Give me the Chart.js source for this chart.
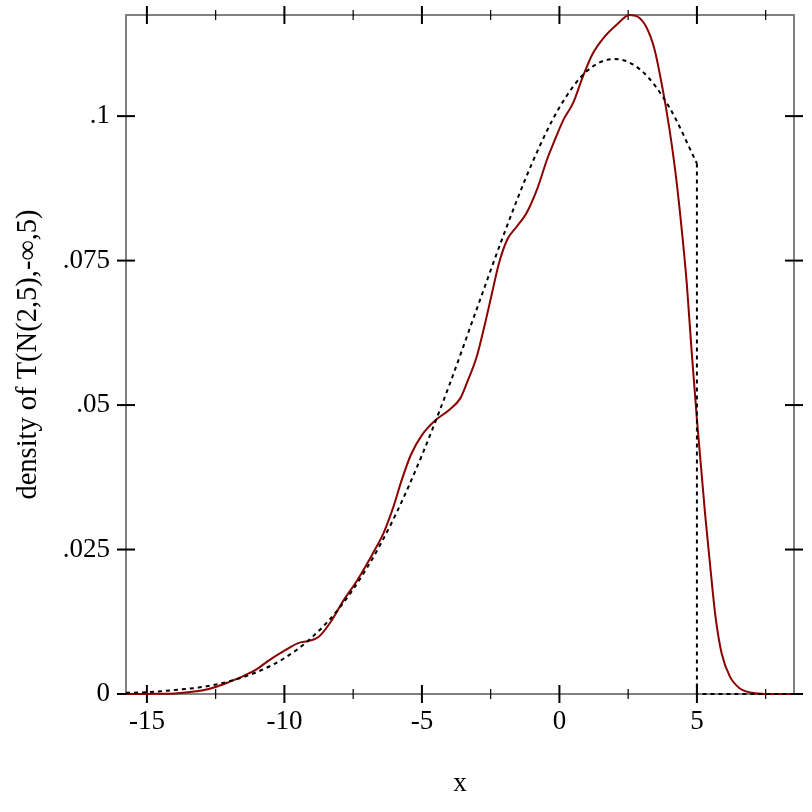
<!DOCTYPE html>
<html lang="en">
<head>
    <meta charset="UTF-8">
    <title>density of T(N(2,5),-∞,5)</title>
    <script src="https://cdn.jsdelivr.net/npm/chart.js@4.4.3/dist/chart.umd.min.js"></script>
    <style>
        html, body { margin: 0; padding: 0; background: #ffffff; }
        #densityChart { display: block; }
    </style>
</head>
<body>
    <canvas id="densityChart" width="812" height="812"></canvas>
    <script>
        // sampled density (solid dark red)
        const sampleX = [-15.76, -15, -14, -13.5, -13, -12.5, -12, -11.5, -11, -10.6, -10, -9.5, -9.1, -8.75, -8.3,
            -7.85, -7.35, -6.8, -6.4, -6.05, -5.75, -5.4, -5.0, -4.5, -4.0, -3.6, -3.35, -3.0, -2.7, -2.45,
            -2.2, -1.9, -1.55, -1.2, -0.8, -0.45, -0.2, 0.15, 0.5, 0.85, 1.2, 1.6, 2.1, 2.55, 2.85,
            3.15, 3.45, 3.75, 4.0, 4.2, 4.4, 4.63, 4.8, 5.0, 5.3, 5.5, 5.68, 5.9, 6.2, 6.55,
            7.0, 7.5, 8.53];
        const sampleY = [0, 0.00002, 0.0001, 0.0003, 0.0006, 0.0012, 0.0021, 0.0031, 0.0043, 0.0057, 0.0075, 0.0088, 0.0092, 0.0099, 0.0126,
            0.0162, 0.0197, 0.0242, 0.0278, 0.0322, 0.0368, 0.0414, 0.0448, 0.0474, 0.0492, 0.0512, 0.054, 0.0585, 0.0642, 0.0694,
            0.0745, 0.0786, 0.0809, 0.0832, 0.0875, 0.0925, 0.0955, 0.0994, 0.1023, 0.1068, 0.1107, 0.1135, 0.1159, 0.1175, 0.1172,
            0.1155, 0.1117, 0.1048, 0.0978, 0.091, 0.0826, 0.0711, 0.0598, 0.0475, 0.031, 0.0213, 0.0132, 0.007, 0.003, 0.001,
            0.0002, 0, 0];

        // truncated normal density (dotted black)
        const truncX = [-15.76, -15, -14, -13, -12, -11, -10, -9, -8, -7, -6, -5, -4, -3, -2, -1, 0, 1, 2, 3, 4, 5];
        const truncY = [0.0002, 0.0003, 0.0007, 0.0012, 0.0022, 0.0038, 0.0062, 0.0098, 0.0149, 0.0218, 0.0306, 0.0413,
            0.0535, 0.0667, 0.0798, 0.0918, 0.1015, 0.1078, 0.1099, 0.1078, 0.1015, 0.0918];
        const dropX = [5, 5, 8.53];
        const dropY = [0.0918, 0, 0];

        const xMajorTicks = [-15, -10, -5, 0, 5];
        const xMinorTicks = [-12.5, -7.5, -2.5, 2.5, 7.5];
        const yTicks = [0, 0.025, 0.05, 0.075, 0.1];
        const yTickLabels = ['0', '.025', '.05', '.075', '.1'];

        const toPoints = (xs, ys) => xs.map((x, i) => ({ x: x, y: ys[i] }));
        const serif = "'Liberation Serif', 'DejaVu Serif', serif";
        const labelFont = { family: serif, size: 27 };

        // frame and tick marks on all four sides, crossing the frame line
        const framePlugin = {
            id: 'frame',
            beforeDatasetsDraw(chart) {
                const ctx = chart.ctx;
                const a = chart.chartArea;
                const xs = chart.scales.x;
                const ys = chart.scales.y;
                ctx.save();
                ctx.strokeStyle = '#808080';
                ctx.lineWidth = 2;
                ctx.strokeRect(a.left, a.top, a.right - a.left, a.bottom - a.top);
                ctx.strokeStyle = '#000000';
                const mark = (x1, y1, x2, y2, w) => {
                    ctx.lineWidth = w;
                    ctx.beginPath();
                    ctx.moveTo(x1, y1);
                    ctx.lineTo(x2, y2);
                    ctx.stroke();
                };
                xMajorTicks.forEach(v => {
                    const px = xs.getPixelForValue(v);
                    mark(px, a.bottom - 9, px, a.bottom + 9, 2);
                    mark(px, a.top - 9, px, a.top + 9, 2);
                });
                xMinorTicks.forEach(v => {
                    const px = xs.getPixelForValue(v);
                    mark(px, a.bottom - 5, px, a.bottom + 5, 1.2);
                    mark(px, a.top - 5, px, a.top + 5, 1.2);
                });
                yTicks.forEach(v => {
                    const py = ys.getPixelForValue(v);
                    mark(a.left - 9, py, a.left + 9, py, 2);
                    mark(a.right - 9, py, a.right + 9, py, 2);
                });
                ctx.restore();
            }
        };

        const ctx = document.getElementById('densityChart').getContext('2d');
        new Chart(ctx, {
            type: 'scatter',
            data: {
                datasets: [
                    {
                        data: toPoints(truncX, truncY),
                        showLine: true,
                        borderColor: '#000000',
                        borderWidth: 2,
                        borderDash: [4, 4],
                        pointRadius: 0,
                        cubicInterpolationMode: 'monotone',
                        clip: false
                    },
                    {
                        data: toPoints(dropX, dropY),
                        showLine: true,
                        borderColor: '#000000',
                        borderWidth: 2,
                        borderDash: [4, 4],
                        pointRadius: 0,
                        tension: 0,
                        clip: false
                    },
                    {
                        data: toPoints(sampleX, sampleY),
                        showLine: true,
                        borderColor: '#8b0000',
                        borderWidth: 2,
                        pointRadius: 0,
                        cubicInterpolationMode: 'monotone',
                        clip: false
                    }
                ]
            },
            options: {
                responsive: false,
                animation: false,
                events: [],
                layout: { padding: { left: 0, right: 18, top: 15, bottom: 0 } },
                plugins: {
                    legend: { display: false },
                    tooltip: { enabled: false }
                },
                scales: {
                    x: {
                        type: 'linear',
                        min: -15.76,
                        max: 8.53,
                        afterBuildTicks: scale => { scale.ticks = xMajorTicks.map(v => ({ value: v })); },
                        afterFit: scale => {
                            scale.height = 118;
                            scale.paddingLeft = 0;
                            scale.paddingRight = 0;
                        },
                        grid: { display: false, drawTicks: false },
                        border: { display: false },
                        ticks: {
                            color: '#000000',
                            font: labelFont,
                            padding: 12,
                            autoSkip: false,
                            maxRotation: 0,
                            callback: value => String(value)
                        },
                        title: {
                            display: true,
                            text: 'x',
                            color: '#000000',
                            font: labelFont,
                            padding: { top: 0, bottom: 12 }
                        }
                    },
                    y: {
                        type: 'linear',
                        min: 0,
                        max: 0.1175,
                        afterBuildTicks: scale => { scale.ticks = yTicks.map(v => ({ value: v })); },
                        afterFit: scale => {
                            scale.width = 126;
                            scale.paddingTop = 0;
                            scale.paddingBottom = 0;
                        },
                        grid: { display: false, drawTicks: false },
                        border: { display: false },
                        ticks: {
                            color: '#000000',
                            font: labelFont,
                            padding: 16,
                            autoSkip: false,
                            callback: (value, index) => yTickLabels[index]
                        },
                        title: {
                            display: true,
                            text: 'density of T(N(2,5),-∞,5)',
                            color: '#000000',
                            font: { family: serif, size: 28.5 },
                            padding: { top: 11, bottom: 0 }
                        }
                    }
                }
            },
            plugins: [framePlugin]
        });
    </script>
</body>
</html>
